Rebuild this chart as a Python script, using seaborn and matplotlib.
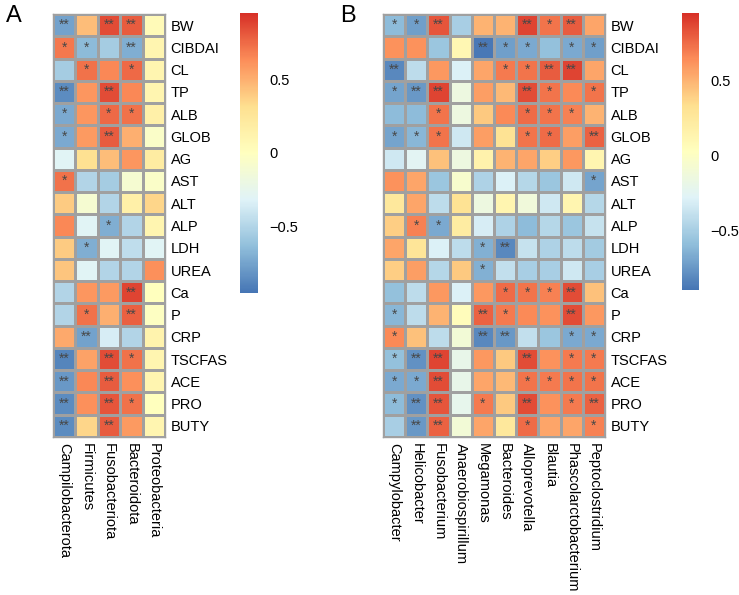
import numpy as np
import pandas as pd
import matplotlib
matplotlib.use("Agg")
import matplotlib.pyplot as plt
import seaborn as sns
from matplotlib.colors import LinearSegmentedColormap

plt.rcParams["font.family"] = ["Liberation Sans", "DejaVu Sans"]

ROWS = ["BW", "CIBDAI", "CL", "TP", "ALB", "GLOB", "AG", "AST", "ALT", "ALP",
        "LDH", "UREA", "Ca", "P", "CRP", "TSCFAS", "ACE", "PRO", "BUTY"]

PHYLA = ["Campilobacterota", "Firmicutes", "Fusobacteriota", "Bacteroidota", "Proteobacteria"]
GENERA = ["Campylobacter", "Helicobacter", "Fusobacterium", "Anaerobiospirillum", "Megamonas",
          "Bacteroides", "Alloprevotella", "Blautia", "Phascolarctobacterium", "Peptoclostridium"]

# panel A correlations (rows x phyla)
corr_a = [
    [-0.75, 0.45, 0.85, 0.80, 0.05],
    [0.70, -0.65, -0.55, -0.70, 0.10],
    [-0.55, 0.72, 0.65, 0.75, 0.10],
    [-0.85, 0.60, 0.85, 0.65, 0.10],
    [-0.72, 0.60, 0.75, 0.72, 0.15],
    [-0.72, 0.58, 0.80, 0.50, -0.05],
    [-0.30, 0.30, 0.45, 0.60, 0.20],
    [0.72, -0.50, -0.55, -0.10, -0.05],
    [0.40, -0.10, -0.50, 0.15, 0.35],
    [0.65, -0.30, -0.70, -0.50, 0.10],
    [0.40, -0.70, -0.30, -0.45, -0.30],
    [0.42, -0.30, -0.50, -0.50, 0.62],
    [-0.50, 0.60, 0.58, 0.88, 0.00],
    [-0.50, 0.72, 0.50, 0.78, -0.02],
    [0.52, -0.75, -0.35, -0.50, 0.12],
    [-0.88, 0.55, 0.85, 0.72, 0.10],
    [-0.80, 0.65, 0.80, 0.62, 0.10],
    [-0.85, 0.62, 0.82, 0.72, 0.00],
    [-0.85, 0.35, 0.80, 0.58, 0.10],
]
stars_a = [
    ["**", "", "**", "**", ""],
    ["*", "*", "", "**", ""],
    ["", "*", "", "*", ""],
    ["**", "", "**", "", ""],
    ["*", "", "*", "*", ""],
    ["*", "", "**", "", ""],
    ["", "", "", "", ""],
    ["*", "", "", "", ""],
    ["", "", "", "", ""],
    ["", "", "*", "", ""],
    ["", "*", "", "", ""],
    ["", "", "", "", ""],
    ["", "", "", "**", ""],
    ["", "*", "", "**", ""],
    ["", "**", "", "", ""],
    ["**", "", "**", "*", ""],
    ["**", "", "**", "", ""],
    ["**", "", "**", "*", ""],
    ["**", "", "**", "", ""],
]

# panel B correlations (rows x genera)
corr_b = [
    [-0.60, -0.72, 0.82, -0.50, 0.50, 0.50, 0.88, 0.72, 0.80, 0.55],
    [0.62, 0.62, -0.55, 0.10, -0.88, -0.72, -0.68, -0.58, -0.68, -0.72],
    [-0.82, -0.42, 0.60, -0.30, 0.55, 0.70, 0.72, 0.80, 0.88, 0.55],
    [-0.70, -0.75, 0.88, -0.15, 0.58, 0.48, 0.85, 0.72, 0.65, 0.72],
    [-0.60, -0.60, 0.72, -0.15, 0.42, 0.65, 0.75, 0.72, 0.68, 0.50],
    [-0.70, -0.62, 0.72, -0.35, 0.58, 0.30, 0.72, 0.75, 0.58, 0.78],
    [-0.35, -0.25, 0.45, -0.15, 0.15, 0.50, 0.55, 0.40, 0.60, 0.12],
    [0.62, 0.55, -0.55, -0.05, -0.48, -0.30, -0.45, -0.55, -0.35, -0.70],
    [0.25, 0.55, -0.42, 0.30, -0.15, 0.12, -0.12, -0.35, 0.12, -0.45],
    [0.40, 0.68, -0.68, 0.22, -0.32, -0.48, -0.60, -0.45, -0.55, -0.38],
    [0.55, 0.28, -0.30, -0.42, -0.65, -0.82, -0.38, -0.48, -0.42, -0.52],
    [0.40, 0.58, -0.45, 0.42, -0.65, -0.40, -0.50, -0.50, -0.35, -0.50],
    [-0.58, -0.42, 0.60, -0.30, 0.60, 0.75, 0.72, 0.68, 0.85, 0.45],
    [-0.62, -0.42, 0.50, 0.05, 0.78, 0.70, 0.65, 0.62, 0.85, 0.60],
    [0.65, 0.45, -0.42, -0.10, -0.82, -0.75, -0.40, -0.55, -0.68, -0.68],
    [-0.58, -0.78, 0.88, -0.20, 0.60, 0.42, 0.85, 0.62, 0.70, 0.70],
    [-0.68, -0.68, 0.85, -0.20, 0.55, 0.48, 0.72, 0.70, 0.72, 0.72],
    [-0.60, -0.78, 0.82, -0.22, 0.70, 0.42, 0.85, 0.62, 0.70, 0.78],
    [-0.50, -0.75, 0.78, -0.10, 0.55, 0.25, 0.75, 0.55, 0.55, 0.68],
]
stars_b = [
    ["*", "*", "**", "", "", "", "**", "*", "**", ""],
    ["", "", "", "", "**", "*", "*", "", "*", "*"],
    ["**", "", "", "", "", "*", "*", "**", "**", ""],
    ["*", "**", "**", "", "", "", "**", "*", "", "*"],
    ["", "", "*", "", "", "", "*", "*", "*", ""],
    ["*", "*", "*", "", "", "", "*", "*", "", "**"],
    ["", "", "", "", "", "", "", "", "", ""],
    ["", "", "", "", "", "", "", "", "", "*"],
    ["", "", "", "", "", "", "", "", "", ""],
    ["", "*", "*", "", "", "", "", "", "", ""],
    ["", "", "", "", "*", "**", "", "", "", ""],
    ["", "", "", "", "*", "", "", "", "", ""],
    ["", "", "", "", "", "*", "*", "*", "**", ""],
    ["*", "", "", "", "**", "*", "", "", "**", ""],
    ["*", "", "", "", "**", "**", "", "", "*", "*"],
    ["*", "**", "**", "", "", "", "**", "", "*", "*"],
    ["*", "*", "**", "", "", "", "*", "*", "*", "*"],
    ["*", "**", "**", "", "*", "", "**", "", "*", "**"],
    ["", "**", "**", "", "", "", "*", "", "", "*"],
]

# pheatmap default palette: rev(brewer.pal(7, "RdYlBu"))
cmap = LinearSegmentedColormap.from_list(
    "pheat", ["#4575B4", "#91BFDB", "#E0F3F8", "#FFFFBF", "#FEE090", "#FC8D59", "#D73027"])

W, H = 739, 595
fig = plt.figure(figsize=(W / 100, H / 100), dpi=100)


def px_axes(x0, y0, x1, y1):
    return fig.add_axes([x0 / W, 1 - y1 / H, (x1 - x0) / W, (y1 - y0) / H])


def draw_panel(data, stars, cols, box, cbar_box, vmin, vmax, letter, letter_xy):
    df = pd.DataFrame(data, index=ROWS, columns=cols)
    ax = px_axes(*box)
    cax = px_axes(*cbar_box)
    sns.heatmap(df, ax=ax, cbar_ax=cax, cmap=cmap, vmin=vmin, vmax=vmax,
                annot=np.array(stars), fmt="", annot_kws={"size": 10, "color": "#474747"},
                linewidths=1, linecolor="#a0a0a0")
    # outer border
    for s in ax.spines.values():
        s.set_visible(True)
        s.set_color("#a0a0a0")
        s.set_linewidth(1)
    ax.yaxis.tick_right()
    ax.set_yticklabels(ROWS, rotation=0, fontsize=10.5, ha="left")
    ax.set_xticklabels(cols, rotation=270, fontsize=10.5, ha="center", va="top")
    ax.tick_params(length=0, pad=4)
    ax.set_xlabel("")
    ax.set_ylabel("")
    cax.set_yticks([-0.5, 0, 0.5])
    cax.set_yticklabels(["\u22120.5", "0", "0.5"], fontsize=10.5)
    cax.tick_params(length=0, pad=8)
    for s in cax.spines.values():
        s.set_visible(False)
    fig.text(letter_xy[0] / W, 1 - letter_xy[1] / H, letter, fontsize=17,
             ha="left", va="center")


draw_panel(corr_a, stars_a, PHYLA, (53, 14, 165, 437), (240, 13, 258, 293),
           -0.95, 0.95, "A", (6, 16))
draw_panel(corr_b, stars_b, GENERA, (383, 14, 605, 437), (682, 13, 699, 290),
           -0.9, 0.95, "B", (340, 16))

fig.savefig("out.png", dpi=100)
